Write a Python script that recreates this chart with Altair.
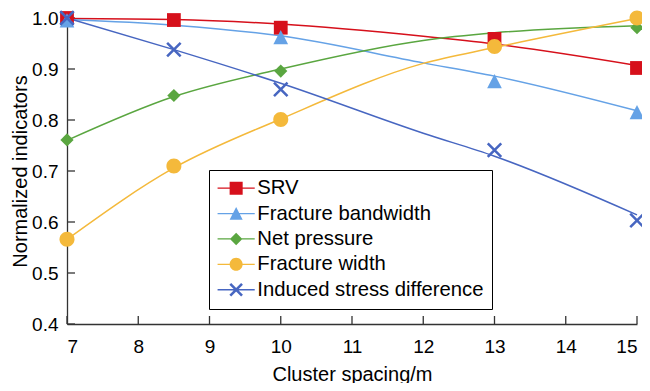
import altair as alt
import pandas as pd

# ---------------- data ----------------
series = ["SRV", "Fracture bandwidth", "Net pressure", "Fracture width",
          "Induced stress difference"]
colors = ["#d6101b", "#65a2e6", "#5aa640", "#f4b93b", "#4766c1"]

# smooth (fitted) curves
curve_x = [7, 8.5, 10, 12, 13, 15]
curve_srv = [0.999, 0.997, 0.988, 0.964, 0.949, 0.907]
curve_band = [0.997, 0.986, 0.965, 0.912, 0.886, 0.818]
curve_net = [0.760, 0.846, 0.900, 0.956, 0.971, 0.985]
curve_width = [0.566, 0.706, 0.802, 0.911, 0.942, 0.999]
curve_stress = [1.000, 0.938, 0.872, 0.774, 0.729, 0.614]

# markers
pts_srv_x = [7, 8.5, 10, 13, 15]
pts_srv_y = [1.000, 0.996, 0.981, 0.959, 0.902]
pts_band_x = [7, 10, 13, 15]
pts_band_y = [0.995, 0.962, 0.876, 0.815]
pts_net_x = [7, 8.5, 10, 15]
pts_net_y = [0.761, 0.848, 0.896, 0.981]
pts_width_x = [7, 8.5, 10, 13, 15]
pts_width_y = [0.566, 0.710, 0.801, 0.944, 1.000]
pts_stress_x = [7, 8.5, 10, 13, 15]
pts_stress_y = [1.000, 0.938, 0.860, 0.741, 0.603]

x_ticks = [7, 8, 9, 10, 11, 12, 13, 14, 15]
y_ticks = [0.4, 0.5, 0.6, 0.7, 0.8, 0.9, 1.0]

curves = [curve_srv, curve_band, curve_net, curve_width, curve_stress]
pts = [(pts_srv_x, pts_srv_y), (pts_band_x, pts_band_y), (pts_net_x, pts_net_y),
       (pts_width_x, pts_width_y), (pts_stress_x, pts_stress_y)]

line_rows = []
for s, c in zip(series, curves):
    for xv, yv in zip(curve_x, c):
        line_rows.append({"series": s, "x": xv, "y": yv})
df_lines = pd.DataFrame(line_rows)

pt_rows = []
for s, (xs, ys) in zip(series, pts):
    for xv, yv in zip(xs, ys):
        pt_rows.append({"series": s, "x": xv, "y": yv})
df_pts = pd.DataFrame(pt_rows)

df_names = pd.DataFrame({"series": series})
df_xt = pd.DataFrame({"x": x_ticks})
df_yt = pd.DataFrame({"y": y_ticks})

# ---------------- symbol paths (style) ----------------
def f(v):
    return f"{v:.3f}"

def x_path(r, t):
    o = t / 2 ** 0.5
    p1 = f"M{f(-r-o)},{f(-r+o)}L{f(r-o)},{f(r+o)}L{f(r+o)},{f(r-o)}L{f(-r+o)},{f(-r-o)}Z"
    p2 = f"M{f(-r+o)},{f(r+o)}L{f(r+o)},{f(-r+o)}L{f(r-o)},{f(-r-o)}L{f(-r-o)},{f(r-o)}Z"
    return p1 + p2

def shapes(sq, tri, dia, t):
    return [
        f"M{f(-sq)},{f(-sq)}V{f(sq)}H{f(sq)}V{f(-sq)}Z",
        f"M0,{f(-tri)}L{f(-tri)},{f(tri*0.95)}H{f(tri)}Z",
        f"M0,{f(-dia)}L{f(-dia)},0L0,{f(dia)}L{f(dia)},0Z",
        "M-1,0A1,1 0 1,0 1,0A1,1 0 1,0 -1,0Z",
        x_path(0.9, t),
    ]

plot_shapes = shapes(0.92, 0.98, 0.88, 0.17)
L = 2.85
line_seg = f"M{f(-L)},-0.1V0.1H{f(L)}V-0.1Z"
legend_shapes = [p + line_seg for p in shapes(1.0, 1.0, 0.95, 0.2)]

FONT = "Liberation Sans"
AX = "#333333"
W, H = 570, 306

xscale = alt.Scale(domain=[7, 15], nice=False, zero=False)
yscale = alt.Scale(domain=[0.4, 1.0], nice=False, zero=False)

xaxis = alt.Axis(values=x_ticks, format="d", title="Cluster spacing/m", grid=False,
                 ticks=False, labelPadding=13, titlePadding=8)
yaxis = alt.Axis(values=y_ticks, format=".1f", title="Normalized indicators",
                 grid=False, ticks=False, labelPadding=9, titlePadding=1)

# inward tick marks at the axis tick values
xt = alt.Chart(df_xt).mark_rule(color=AX, strokeWidth=1.3).encode(
    x=alt.X("x:Q", scale=xscale, axis=xaxis),
    y=alt.value(H), y2=alt.value(H - 8),
)
yt = alt.Chart(df_yt).mark_rule(color=AX, strokeWidth=1.3).encode(
    y=alt.Y("y:Q", scale=yscale, axis=yaxis),
    x=alt.value(0), x2=alt.value(8),
)

lines = alt.Chart(df_lines).mark_line(strokeWidth=1.5, interpolate="monotone").encode(
    x=alt.X("x:Q", scale=xscale, axis=xaxis),
    y=alt.Y("y:Q", scale=yscale, axis=yaxis),
    color=alt.Color("series:N", scale=alt.Scale(domain=series, range=colors), legend=None),
)

points = alt.Chart(df_pts).mark_point(filled=True, size=225, opacity=1, strokeWidth=0).encode(
    x=alt.X("x:Q", scale=xscale, axis=xaxis),
    y=alt.Y("y:Q", scale=yscale, axis=yaxis),
    color=alt.Color("series:N", scale=alt.Scale(domain=series, range=colors), legend=None),
    shape=alt.Shape("series:N", scale=alt.Scale(domain=series, range=plot_shapes), legend=None),
)

leg = alt.Legend(
    orient="none", legendX=142, legendY=152, title=None,
    strokeColor="#000000", fillColor="#ffffff", padding=8,
    labelFont=FONT, labelFontSize=20.3, labelColor="#000000", labelLimit=400,
    symbolSize=170, symbolStrokeWidth=0, symbolOffset=9, labelOffset=11,
    rowPadding=4.4,
)

legend_layer = alt.Chart(df_names).mark_point(filled=True, opacity=1, strokeWidth=0).encode(
    color=alt.Color("series:N", scale=alt.Scale(domain=series, range=colors), legend=leg),
    shape=alt.Shape("series:N", scale=alt.Scale(domain=series, range=legend_shapes), legend=leg),
).transform_filter("false")

chart = alt.layer(xt, yt, lines, points, legend_layer).resolve_scale(
    color="independent", shape="independent"
).properties(
    width=W, height=H,
    autosize=alt.AutoSizeParams(type="none"),
    padding={"left": 59, "top": 10, "right": 5, "bottom": 59},
).configure_view(stroke=None).configure_axis(
    labelFont=FONT, labelFontSize=19, labelColor="#000000",
    titleFont=FONT, titleFontSize=20, titleFontWeight="normal", titleColor="#000000",
    domainColor=AX, domainWidth=1.3,
)

chart.save("out.html", embed_options={"renderer": "svg", "actions": False})
